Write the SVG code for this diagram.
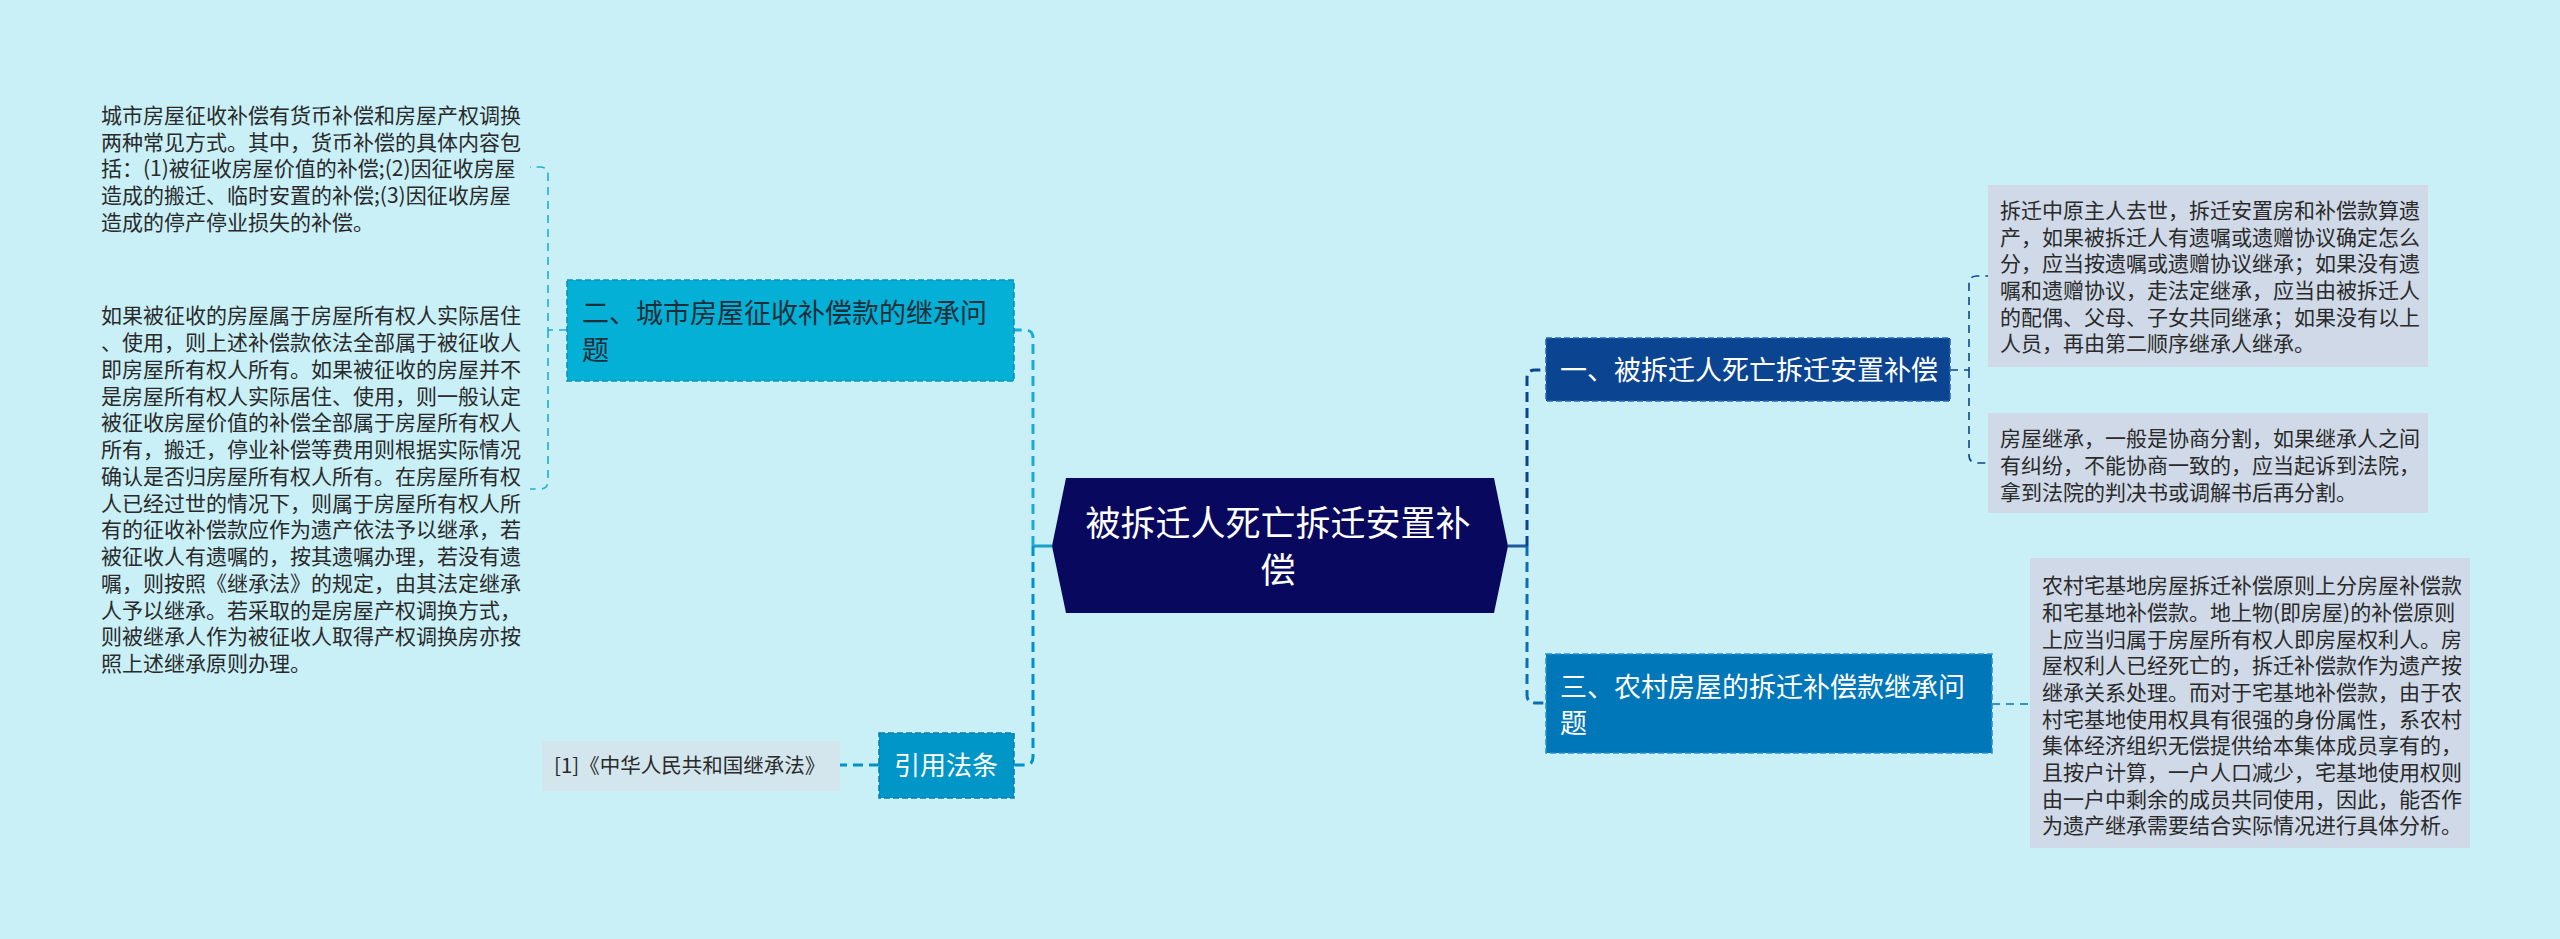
<svg xmlns="http://www.w3.org/2000/svg" width="2560" height="939" viewBox="0 0 2560 939">
<style>
text{font-family:"Noto Sans CJK SC","Noto Sans",sans-serif}
.t{font-size:21px;fill:#2a2a2a}
.br{font-size:27px}
.w{fill:#ffffff}
.d{fill:#1f2f3a}
.c{fill:none;stroke-width:3;stroke-dasharray:10 6}
.s{fill:none;stroke-width:3}
.f{fill:none;stroke-width:1.6;stroke-dasharray:8 6}
.nb{stroke-width:1.6;stroke-dasharray:6 3}
</style>
<rect x="0" y="0" width="2560" height="939" fill="#c9eff7"/>
<g id="connectors">
<path class="s" stroke="#1a9fc8" d="M1052,546 H1033"/>
<path class="c" stroke="#16aed4" d="M1033,546 V338 Q1033,330 1025,330 H1014"/>
<path class="c" stroke="#0094c6" d="M1033,546 V757 Q1033,765 1025,765 H1014"/>
<path class="f" stroke="#22aed0" d="M567,330 H548 V175 Q548,167 540,167 H530"/>
<path class="f" stroke="#22aed0" d="M548,330 V481 Q548,489 540,489 H530"/>
<path class="c" stroke="#0094c6" d="M879,765 H840"/>
<path class="s" stroke="#1a5a9a" d="M1508,546 H1527"/>
<path class="c" stroke="#0b4592" d="M1527,546 V378 Q1527,370 1535,370 H1546"/>
<path class="c" stroke="#0a6fb0" d="M1527,546 V695 Q1527,703 1535,703 H1546"/>
<path class="f" stroke="#0b4592" d="M1950,370 H1969 V284 Q1969,276 1977,276 H1988"/>
<path class="f" stroke="#0b4592" d="M1969,370 V455 Q1969,463 1977,463 H1988"/>
<path class="f" stroke="#0077b8" d="M1992,704 H2030"/>
</g>
<g id="center">
<polygon points="1066,478 1494,478 1508,546 1494,613 1066,613 1052,546" fill="#08085e"/>
<text x="1278" y="536" font-size="35" text-anchor="middle" class="w">被拆迁人死亡拆迁安置补</text>
<text x="1278" y="583" font-size="35" text-anchor="middle" class="w">偿</text>
</g>
<g id="branch2">
<rect x="567" y="280" width="447" height="101" fill="#04b0d6" stroke="#0a93bb" class="nb"/>
<text x="582" y="323" class="br d">二、城市房屋征收补偿款的继承问</text>
<text x="582" y="360" class="br d">题</text>
</g>
<g id="text2a">
<text class="t" x="101"><tspan x="101" y="123">城市房屋征收补偿有货币补偿和房屋产权调换</tspan><tspan x="101" y="150">两种常见方式。其中，货币补偿的具体内容包</tspan><tspan x="101" y="176">括：(1)被征收房屋价值的补偿;(2)因征收房屋</tspan><tspan x="101" y="203">造成的搬迁、临时安置的补偿;(3)因征收房屋</tspan><tspan x="101" y="230">造成的停产停业损失的补偿。</tspan></text>
</g>
<g id="text2b">
<text class="t" x="101"><tspan x="101" y="323">如果被征收的房屋属于房屋所有权人实际居住</tspan><tspan x="101" y="350">、使用，则上述补偿款依法全部属于被征收人</tspan><tspan x="101" y="377">即房屋所有权人所有。如果被征收的房屋并不</tspan><tspan x="101" y="404">是房屋所有权人实际居住、使用，则一般认定</tspan><tspan x="101" y="430">被征收房屋价值的补偿全部属于房屋所有权人</tspan><tspan x="101" y="457">所有，搬迁，停业补偿等费用则根据实际情况</tspan><tspan x="101" y="484">确认是否归房屋所有权人所有。在房屋所有权</tspan><tspan x="101" y="511">人已经过世的情况下，则属于房屋所有权人所</tspan><tspan x="101" y="537">有的征收补偿款应作为遗产依法予以继承，若</tspan><tspan x="101" y="564">被征收人有遗嘱的，按其遗嘱办理，若没有遗</tspan><tspan x="101" y="591">嘱，则按照《继承法》的规定，由其法定继承</tspan><tspan x="101" y="618">人予以继承。若采取的是房屋产权调换方式，</tspan><tspan x="101" y="644">则被继承人作为被征收人取得产权调换房亦按</tspan><tspan x="101" y="671">照上述继承原则办理。</tspan></text>
</g>
<g id="law">
<rect x="879" y="733" width="135" height="65" fill="#0096c8" stroke="#0a7fb0" class="nb"/>
<text x="946" y="775" font-size="26" text-anchor="middle" class="w">引用法条</text>
</g>
<g id="lawref">
<rect x="542" y="741" width="298" height="50" fill="#d3e6ee"/>
<text x="554" y="773" font-size="20.5" fill="#2a2a2a">[1]《中华人民共和国继承法》</text>
</g>
<g id="branch1">
<rect x="1546" y="338" width="404" height="63" fill="#0b4592" stroke="#2a66b0" class="nb"/>
<text x="1560" y="380" class="br w">一、被拆迁人死亡拆迁安置补偿</text>
</g>
<g id="text1a">
<rect x="1988" y="185" width="440" height="182" fill="#cfd9e7"/>
<text class="t"><tspan x="2000" y="218">拆迁中原主人去世，拆迁安置房和补偿款算遗</tspan><tspan x="2000" y="245">产，如果被拆迁人有遗嘱或遗赠协议确定怎么</tspan><tspan x="2000" y="271">分，应当按遗嘱或遗赠协议继承；如果没有遗</tspan><tspan x="2000" y="298">嘱和遗赠协议，走法定继承，应当由被拆迁人</tspan><tspan x="2000" y="325">的配偶、父母、子女共同继承；如果没有以上</tspan><tspan x="2000" y="351">人员，再由第二顺序继承人继承。</tspan></text>
</g>
<g id="text1b">
<rect x="1988" y="413" width="440" height="100" fill="#cfd9e7"/>
<text class="t"><tspan x="2000" y="446">房屋继承，一般是协商分割，如果继承人之间</tspan><tspan x="2000" y="473">有纠纷，不能协商一致的，应当起诉到法院，</tspan><tspan x="2000" y="500">拿到法院的判决书或调解书后再分割。</tspan></text>
</g>
<g id="branch3">
<rect x="1546" y="654" width="446" height="99" fill="#0077b8" stroke="#2a8fd0" class="nb"/>
<text x="1560" y="697" class="br w">三、农村房屋的拆迁补偿款继承问</text>
<text x="1560" y="733" class="br w">题</text>
</g>
<g id="text3">
<rect x="2030" y="558" width="440" height="290" fill="#cfd9e7"/>
<text class="t"><tspan x="2042" y="593">农村宅基地房屋拆迁补偿原则上分房屋补偿款</tspan><tspan x="2042" y="620">和宅基地补偿款。地上物(即房屋)的补偿原则</tspan><tspan x="2042" y="647">上应当归属于房屋所有权人即房屋权利人。房</tspan><tspan x="2042" y="673">屋权利人已经死亡的，拆迁补偿款作为遗产按</tspan><tspan x="2042" y="700">继承关系处理。而对于宅基地补偿款，由于农</tspan><tspan x="2042" y="727">村宅基地使用权具有很强的身份属性，系农村</tspan><tspan x="2042" y="753">集体经济组织无偿提供给本集体成员享有的，</tspan><tspan x="2042" y="780">且按户计算，一户人口减少，宅基地使用权则</tspan><tspan x="2042" y="807">由一户中剩余的成员共同使用，因此，能否作</tspan><tspan x="2042" y="833">为遗产继承需要结合实际情况进行具体分析。</tspan></text>
</g>
</svg>
